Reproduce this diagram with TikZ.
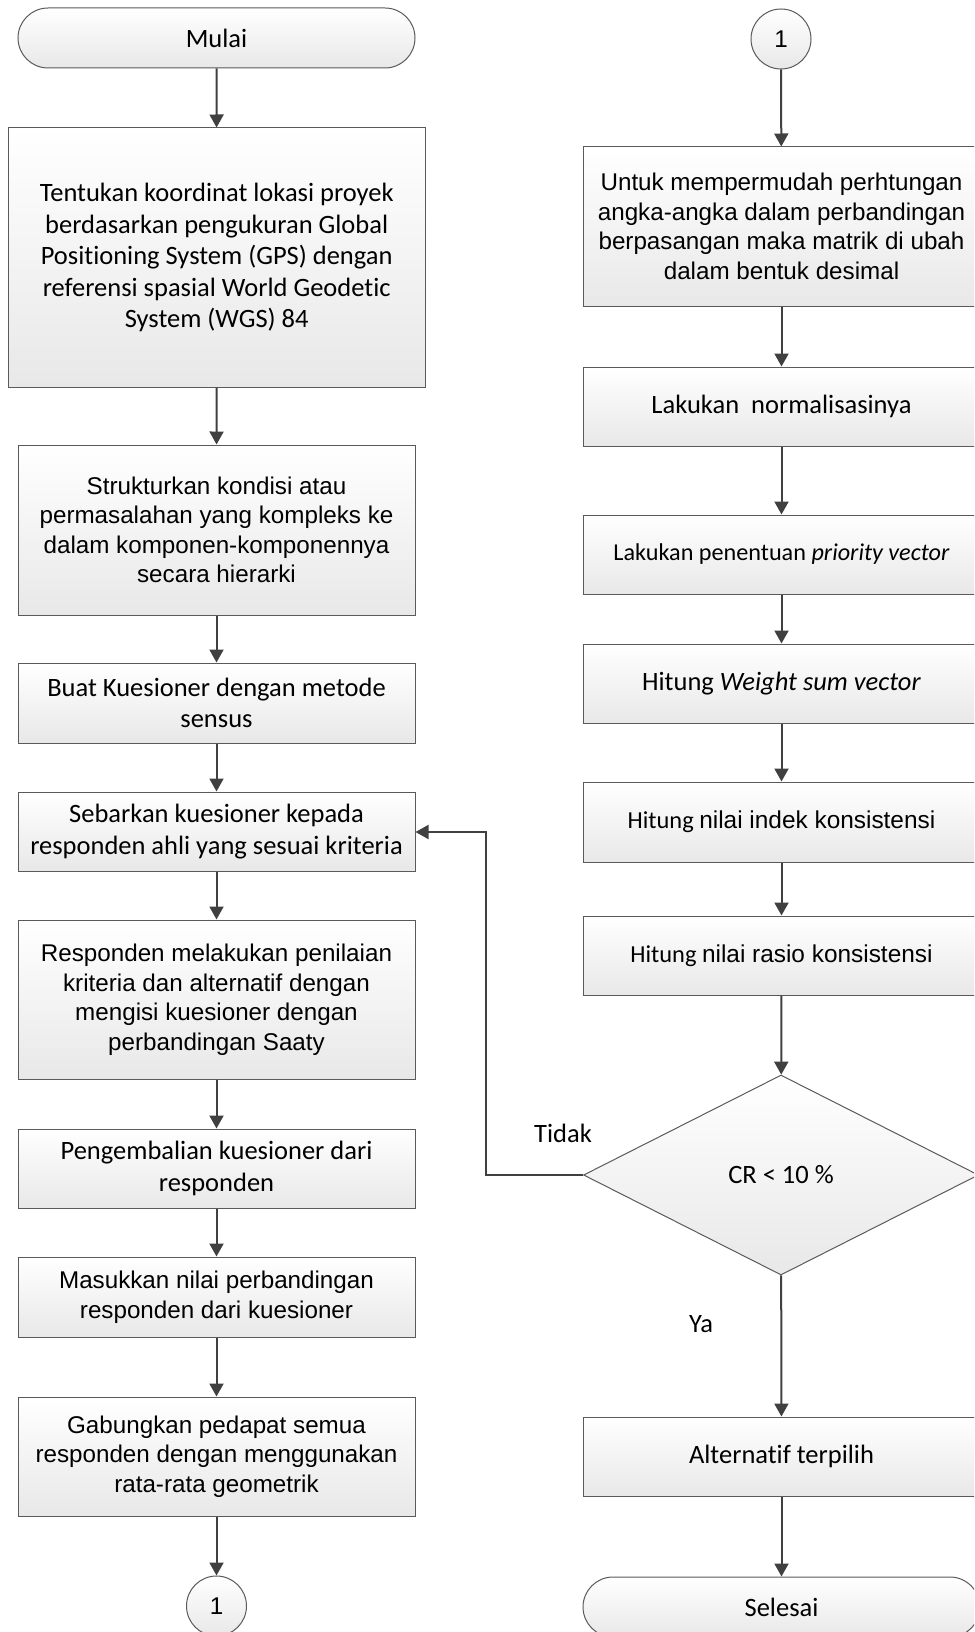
\documentclass[tikz,border=0pt]{standalone}
\usepackage{fontspec}
\setmainfont{Carlito}[Ligatures=NoCommon]
\newfontfamily\calfam{Carlito}[Ligatures=NoCommon]
\newfontfamily\arifam{Liberation Sans}
\usetikzlibrary{arrows.meta,shapes.geometric}
\definecolor{edge}{RGB}{90,90,90}
\definecolor{wire}{RGB}{64,64,64}
\definecolor{shadebot}{RGB}{232,232,232}
\tikzset{
  base/.style={draw=edge, line width=1pt, top color=white, bottom color=shadebot,
    align=center, inner sep=0pt, text=black},
  procbox/.style={base, rectangle, minimum width=397pt},
  termbox/.style={base, rectangle, rounded corners=30pt, minimum width=397pt, minimum height=60pt},
  linkcirc/.style={base, circle, minimum size=60pt},
  choice/.style={base, diamond, minimum width=395pt, minimum height=200pt},
  flow/.style={draw=wire, line width=2pt, -{Triangle[length=13pt,width=14pt]}},
  cfont/.style={font=\calfam\fontsize{26.5}{31.5}\selectfont},
  afont/.style={font=\arifam\fontsize{24.2}{29.5}\selectfont},
  mixfont/.style={font=\calfam\fontsize{24.4}{29}\selectfont},
}
\newcommand\arialpart[1]{{\arifam\fontsize{24.4}{29}\selectfont #1}}
\begin{document}
\begin{tikzpicture}[x=1pt,y=-1pt]
\useasboundingbox (0,0) rectangle (974,1632);
\clip (0,0) rectangle (974,1632);

% left column
\node[termbox, cfont] (mulai) at (216.5,38) {Mulai};
\node[procbox, cfont, minimum width=417pt, minimum height=259pt] (tentukan) at (216.7,257.5)
  {Tentukan koordinat lokasi proyek\\berdasarkan pengukuran Global\\Positioning System (GPS) dengan\\referensi spasial World Geodetic\\System (WGS) 84};
\node[procbox, afont, minimum height=170pt] (struktur) at (216.5,530)
  {Strukturkan kondisi atau\\permasalahan yang kompleks ke\\dalam komponen-komponennya\\secara hierarki};
\node[procbox, cfont, minimum height=80pt] (buat) at (216.5,703)
  {Buat Kuesioner dengan metode\\sensus};
\node[procbox, cfont, minimum height=79pt] (sebar) at (216.5,831.5)
  {Sebarkan kuesioner kepada\\responden ahli yang sesuai kriteria};
\node[procbox, afont, minimum height=159pt] (nilai) at (216.5,999.5)
  {Responden melakukan penilaian\\kriteria dan alternatif dengan\\mengisi kuesioner dengan\\perbandingan Saaty};
\node[procbox, cfont, minimum height=79pt] (kembali) at (216.5,1168.5)
  {Pengembalian kuesioner dari\\responden};
\node[procbox, afont, minimum height=80pt] (masuk) at (216.5,1297)
  {Masukkan nilai perbandingan\\responden dari kuesioner};
\node[procbox, afont, minimum height=119pt] (gabung) at (216.5,1456.5)
  {Gabungkan pedapat semua\\responden dengan menggunakan\\rata-rata geometrik};
\node[linkcirc, afont] (linkA) at (216.5,1606) {1};

% right column
\node[linkcirc, afont] (linkB) at (781,39) {1};
\node[procbox, afont, minimum height=159pt] (untuk) at (781.5,226.5)
  {Untuk mempermudah perhtungan\\angka-angka dalam perbandingan\\berpasangan maka matrik di ubah\\dalam bentuk desimal};
\node[procbox, cfont, minimum height=79pt] (normal) at (781.5,406.5)
  {Lakukan\ \ normalisasinya};
\node[procbox, font=\calfam\fontsize{24.2}{29}\selectfont, minimum height=79pt] (prior) at (781.5,554.5)
  {Lakukan penentuan \textit{priority vector}};
\node[procbox, cfont, minimum height=79pt] (weight) at (781.5,683.5)
  {Hitung \textit{Weight sum vector}};
\node[procbox, mixfont, minimum height=80pt] (indek) at (781.5,822)
  {Hitung \arialpart{nilai indek konsistensi}};
\node[procbox, mixfont, minimum height=79pt] (rasio) at (781.5,955.5)
  {Hitung \arialpart{nilai rasio konsistensi}};
\node[choice, cfont] (cr) at (781,1175) {CR < 10 \%};
\node[procbox, cfont, minimum height=79pt] (alt) at (781.5,1456.5) {Alternatif terpilih};
\node[termbox, cfont] (selesai) at (781.5,1607) {Selesai};

% branch labels
\node[cfont] (tidak) at (563,1133) {Tidak};
\node[cfont] (ya) at (701,1324) {Ya};
\coordinate (loopB) at (486,1175);
\coordinate (loopT) at (486,832);

% connectors, left
\draw[flow] (mulai) -- (tentukan);
\draw[flow] (tentukan) -- (struktur);
\draw[flow] (struktur) -- (buat);
\draw[flow] (buat) -- (sebar);
\draw[flow] (sebar) -- (nilai);
\draw[flow] (nilai) -- (kembali);
\draw[flow] (kembali) -- (masuk);
\draw[flow] (masuk) -- (gabung);
\draw[flow] (gabung) -- (linkA);

% connectors, right
\draw[flow] (linkB) -- (untuk);
\draw[flow] (untuk) -- (normal);
\draw[flow] (normal) -- (prior);
\draw[flow] (prior) -- (weight);
\draw[flow] (weight) -- (indek);
\draw[flow] (indek) -- (rasio);
\draw[flow] (rasio) -- (cr);
\draw[flow] (cr) -- (alt);
\draw[flow] (alt) -- (selesai);

% loop back when the ratio is too high
\draw[flow] (cr.west) -- (loopB) -- (loopT) -- (sebar.east |- loopT);
\end{tikzpicture}
\end{document}
